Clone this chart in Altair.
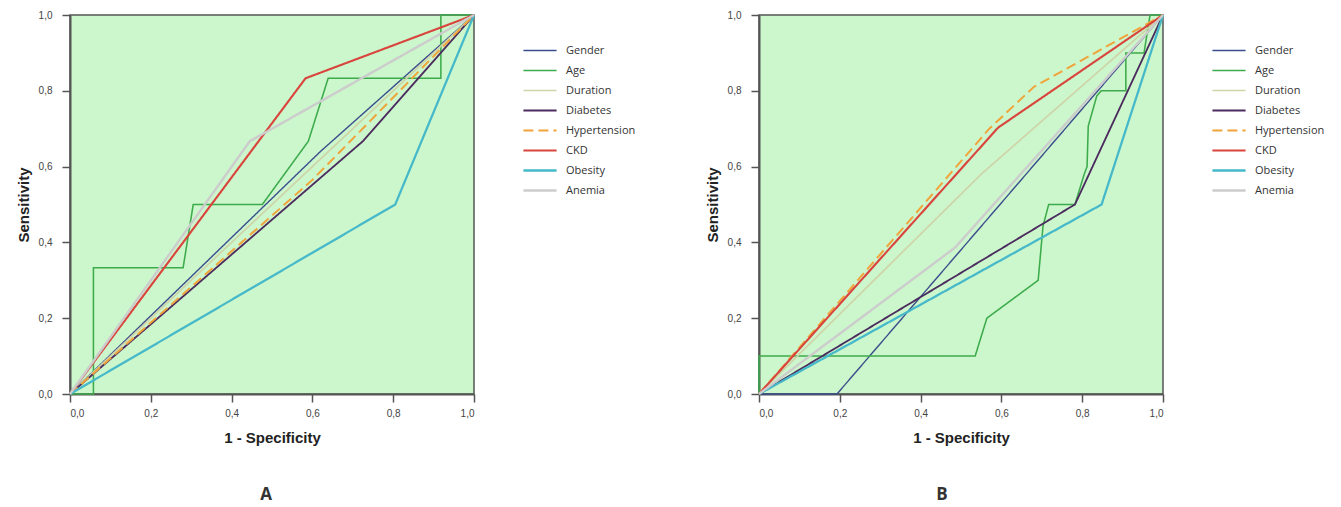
import altair as alt
import pandas as pd

series = ["Gender", "Age", "Duration", "Diabetes", "Hypertension", "CKD", "Obesity", "Anemia"]
colors = ["#3b4d8c", "#3cab4b", "#cfd4a8", "#4b2b5e", "#f0a43a", "#d9443c", "#45b9c9", "#cccccc"]
widths = [1.4, 2.4, 1.4, 2.4, 2.4, 2.4, 2.4, 2.4]
dashes = [[1, 0], [1, 0], [1, 0], [1, 0], [10, 5], [1, 0], [1, 0], [1, 0]]

ticks = [0, 0.2, 0.4, 0.6, 0.8, 1.0]

# Panel A: (1 - specificity, sensitivity) points
a_x = {
    "Gender": [0, 0.62, 1],
    "Age": [0, 0.058, 0.058, 0.28, 0.305, 0.476, 0.59, 0.639, 0.918, 0.918, 1],
    "Duration": [0, 1],
    "Diabetes": [0, 0.725, 1],
    "Hypertension": [0, 0.6, 1],
    "CKD": [0, 0.583, 1],
    "Obesity": [0, 0.805, 1],
    "Anemia": [0, 0.445, 1],
}
a_y = {
    "Gender": [0, 0.64, 1],
    "Age": [0, 0, 0.333, 0.333, 0.5, 0.5, 0.667, 0.833, 0.833, 1, 1],
    "Duration": [0, 1],
    "Diabetes": [0, 0.667, 1],
    "Hypertension": [0, 0.565, 1],
    "CKD": [0, 0.833, 1],
    "Obesity": [0, 0.5, 1],
    "Anemia": [0, 0.667, 1],
}

# Panel B
b_x = {
    "Gender": [0, 0.193, 1],
    "Age": [0, 0, 0.535, 0.564, 0.691, 0.703, 0.717, 0.782, 0.805, 0.812, 0.815, 0.836, 0.847, 0.908, 0.908, 0.953, 0.968, 1],
    "Duration": [0, 0.55, 1],
    "Diabetes": [0, 0.782, 1],
    "Hypertension": [0, 0.57, 0.68, 1],
    "CKD": [0, 0.592, 1],
    "Obesity": [0, 0.848, 1],
    "Anemia": [0, 0.485, 1],
}
b_y = {
    "Gender": [0, 0, 1],
    "Age": [0, 0.1, 0.1, 0.2, 0.3, 0.443, 0.5, 0.5, 0.58, 0.6, 0.707, 0.786, 0.8, 0.8, 0.9, 0.9, 1, 1],
    "Duration": [0, 0.58, 1],
    "Diabetes": [0, 0.5, 1],
    "Hypertension": [0, 0.70, 0.81, 1],
    "CKD": [0, 0.703, 1],
    "Obesity": [0, 0.5, 1],
    "Anemia": [0, 0.386, 1],
}


def build(xs, ys):
    rows = []
    for s in series:
        for i, (x, y) in enumerate(zip(xs[s], ys[s])):
            rows.append({"series": s, "x": x, "y": y, "i": i})
    return pd.DataFrame(rows)


label_expr = "replace(format(datum.value, '.1f'), '.', ',')"

leg = alt.Legend(
    title=None,
    orient="none",
    legendX=452,
    legendY=28,
    symbolType="stroke",
    symbolSize=1100,
    clipHeight=15,
    rowPadding=5,
    labelFontSize=11,
    labelFont="Open Sans",
    labelColor="#333333",
    labelOffset=8,
)


def panel(df, label, dx):
    return (
        alt.Chart(
            df,
            title=alt.TitleParams(
                label, orient="bottom", fontSize=17, font="Open Sans",
                fontWeight="bold", color="#333333", offset=42, dx=dx,
            ),
        )
        .mark_line()
        .encode(
            x=alt.X(
                "x:Q",
                scale=alt.Scale(domain=[0, 1], nice=False),
                axis=alt.Axis(
                    values=ticks, labelExpr=label_expr, title="1 - Specificity",
                    tickSize=8, labelPadding=6, titlePadding=12,
                ),
            ),
            y=alt.Y(
                "y:Q",
                scale=alt.Scale(domain=[0, 1], nice=False),
                axis=alt.Axis(
                    values=ticks, labelExpr=label_expr, title="Sensitivity",
                    tickSize=8, labelPadding=10, titlePadding=7,
                ),
            ),
            color=alt.Color("series:N", scale=alt.Scale(domain=series, range=colors), legend=leg),
            strokeDash=alt.StrokeDash("series:N", scale=alt.Scale(domain=series, range=dashes), legend=leg),
            strokeWidth=alt.StrokeWidth("series:N", scale=alt.Scale(domain=series, range=widths), legend=leg),
            order="i:Q",
        )
        .properties(width=404, height=379)
    )


chart_a = panel(build(a_x, a_y), "A", -6)
chart_b = panel(build(b_x, b_y), "B", -19)

chart = (
    alt.hconcat(chart_a, chart_b, spacing=285, bounds="flush")
    .resolve_scale(color="independent", strokeDash="independent", strokeWidth="independent")
    .resolve_legend(color="independent", strokeDash="independent", strokeWidth="independent")
    .properties(padding={"left": 7, "top": 1, "right": 5, "bottom": 5}, background="white")
    .configure_view(fill="#ccf6cc", stroke="#555555", strokeWidth=1.5)
    .configure_axis(
        domainColor="#555555", domainWidth=2, tickColor="#555555", tickWidth=1.5,
        grid=False, labelFont="Liberation Sans", labelFontSize=10, labelColor="#444444",
        titleFont="Liberation Sans", titleFontSize=15, titleFontWeight="bold", titleColor="#222222",
    )
)

chart.save("out.html", embed_options={"renderer": "svg", "actions": False})
